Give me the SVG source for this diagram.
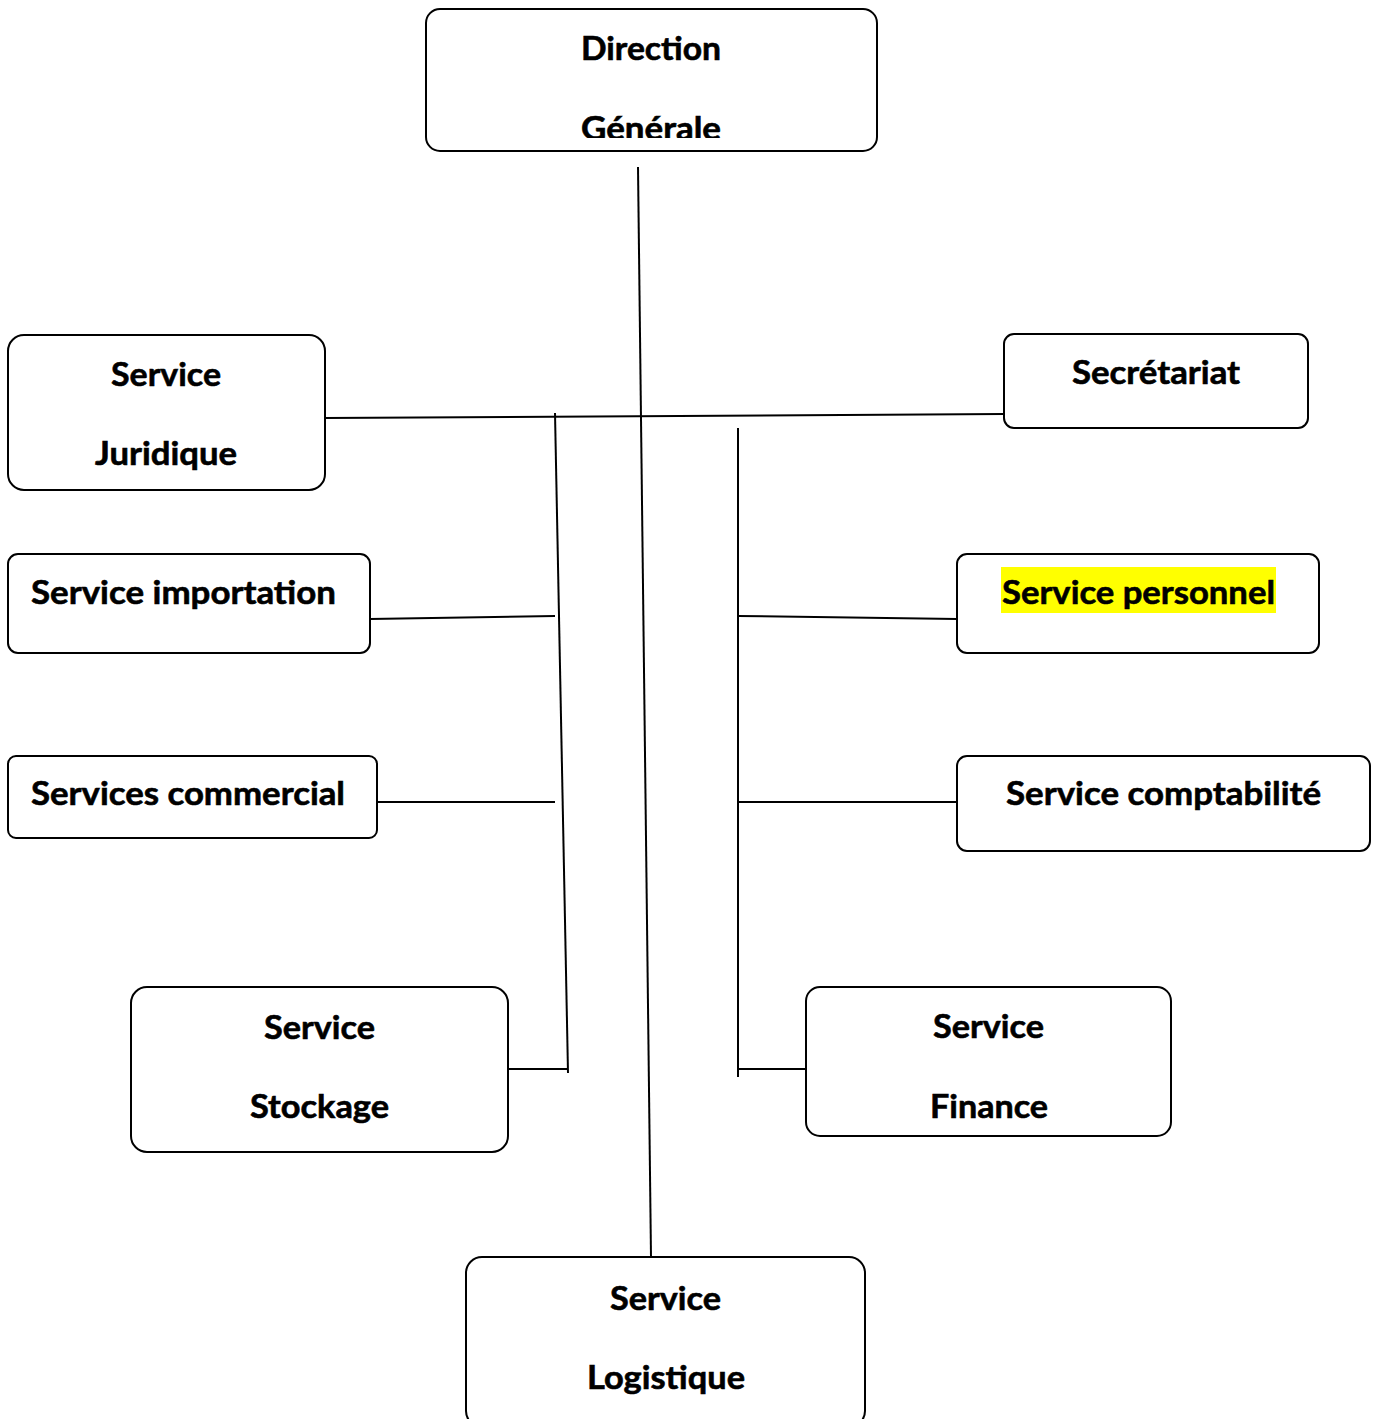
<svg xmlns="http://www.w3.org/2000/svg" width="1379" height="1419" viewBox="0 0 1379 1419">
<style>
.box{fill:#fff;stroke:#000;stroke-width:2}
.t{font-family:Lato,"Open Sans","Liberation Sans",sans-serif;font-weight:bold;font-size:33px;fill:#000;stroke:#000;stroke-width:0.6}
.c{text-anchor:middle}
.ln{stroke:#000;stroke-width:2;fill:none}
</style>
<defs>
<clipPath id="clipDG"><rect x="426" y="9" width="451" height="129"/></clipPath>
</defs>
<rect width="1379" height="1419" fill="#fff"/>
<g id="connectors">
<line class="ln" x1="638" y1="167" x2="651" y2="1257"/>
<line class="ln" x1="325" y1="418" x2="1004" y2="414"/>
<line class="ln" x1="555" y1="413" x2="568" y2="1073"/>
<line class="ln" x1="738" y1="428" x2="738" y2="1077"/>
<line class="ln" x1="370" y1="619" x2="555" y2="616"/>
<line class="ln" x1="377" y1="802" x2="555" y2="802"/>
<line class="ln" x1="508" y1="1069" x2="568" y2="1069"/>
<line class="ln" x1="738" y1="616" x2="957" y2="619"/>
<line class="ln" x1="738" y1="802" x2="957" y2="802"/>
<line class="ln" x1="738" y1="1069" x2="806" y2="1069"/>
</g>
<g id="direction">
<rect class="box" x="426" y="9" width="451" height="142" rx="14"/>
<text class="t c" x="651" y="60" textLength="140" lengthAdjust="spacingAndGlyphs">Direction</text>
<text class="t c" x="651" y="140" textLength="140" lengthAdjust="spacingAndGlyphs" clip-path="url(#clipDG)">Générale</text>
</g>
<g id="juridique">
<rect class="box" x="8" y="335" width="317" height="155" rx="16"/>
<text class="t c" x="166" y="386" textLength="110" lengthAdjust="spacingAndGlyphs">Service</text>
<text class="t c" x="166" y="465" textLength="142" lengthAdjust="spacingAndGlyphs">Juridique</text>
</g>
<g id="secretariat">
<rect class="box" x="1004" y="334" width="304" height="94" rx="10"/>
<text class="t c" x="1156" y="384" textLength="168" lengthAdjust="spacingAndGlyphs">Secrétariat</text>
</g>
<g id="importation">
<rect class="box" x="8" y="554" width="362" height="99" rx="10"/>
<text class="t" x="31" y="604" textLength="305" lengthAdjust="spacingAndGlyphs">Service importation</text>
</g>
<g id="commercial">
<rect class="box" x="8" y="756" width="369" height="82" rx="8"/>
<text class="t" x="31" y="805" textLength="314" lengthAdjust="spacingAndGlyphs">Services commercial</text>
</g>
<g id="personnel">
<rect class="box" x="957" y="554" width="362" height="99" rx="10"/>
<rect x="1001" y="567" width="275" height="46" fill="#ffff00"/>
<text class="t" x="1002" y="604" textLength="273" lengthAdjust="spacingAndGlyphs">Service personnel</text>
</g>
<g id="comptabilite">
<rect class="box" x="957" y="756" width="413" height="95" rx="10"/>
<text class="t" x="1006" y="805" textLength="315" lengthAdjust="spacingAndGlyphs">Service comptabilité</text>
</g>
<g id="stockage">
<rect class="box" x="131" y="987" width="377" height="165" rx="16"/>
<text class="t c" x="319.5" y="1039" textLength="111" lengthAdjust="spacingAndGlyphs">Service</text>
<text class="t c" x="319.5" y="1118" textLength="139" lengthAdjust="spacingAndGlyphs">Stockage</text>
</g>
<g id="finance">
<rect class="box" x="806" y="987" width="365" height="149" rx="14"/>
<text class="t c" x="988.5" y="1038" textLength="111" lengthAdjust="spacingAndGlyphs">Service</text>
<text class="t c" x="989" y="1118" textLength="118" lengthAdjust="spacingAndGlyphs">Finance</text>
</g>
<g id="logistique">
<rect class="box" x="466" y="1257" width="399" height="170" rx="16"/>
<text class="t c" x="665.5" y="1310" textLength="111" lengthAdjust="spacingAndGlyphs">Service</text>
<text class="t c" x="666" y="1389" textLength="158" lengthAdjust="spacingAndGlyphs">Logistique</text>
</g>
</svg>
